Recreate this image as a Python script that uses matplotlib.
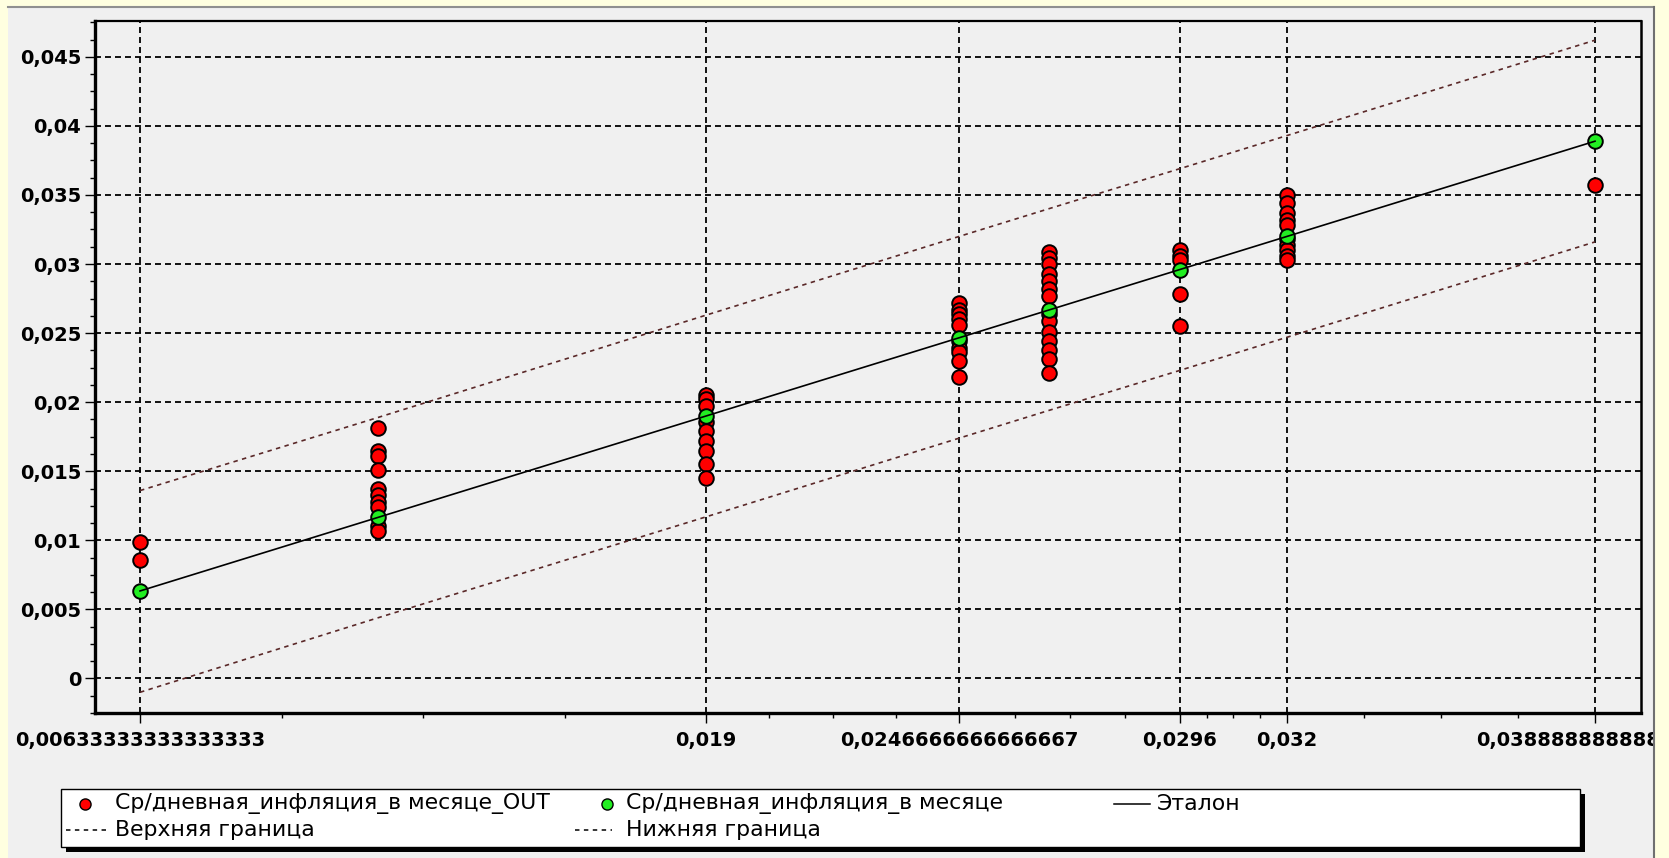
import matplotlib
matplotlib.use("Agg")
import matplotlib.pyplot as plt
from matplotlib.patches import Rectangle
from matplotlib.lines import Line2D

plt.rcParams["font.family"] = ["DejaVu Sans"]
plt.rcParams["lines.scale_dashes"] = False

# ---- data -------------------------------------------------------------
x_cats = [0.00633333333333333, 0.0116666666666667, 0.019, 0.0246666666666667,
          0.0266666666666667, 0.0296, 0.032, 0.0388888888888889]

# monthly mean daily inflation (reference series)
mean_vals = [0.00633333333333333, 0.0116666666666667, 0.019, 0.0246666666666667,
             0.0266666666666667, 0.0296, 0.032, 0.0388888888888889]

# observed values per category (OUT series)
out_groups = [
    [0.0099, 0.0086],
    [0.0181, 0.0165, 0.0161, 0.0151, 0.0137, 0.0133, 0.0128, 0.0124, 0.0110, 0.0107],
    [0.0205, 0.0202, 0.0197, 0.0186, 0.0179, 0.0172, 0.0165, 0.0155, 0.0145],
    [0.0272, 0.0267, 0.0264, 0.0260, 0.0256, 0.0244, 0.0239, 0.0236, 0.0230, 0.0218],
    [0.0309, 0.0304, 0.0300, 0.0293, 0.0288, 0.0282, 0.0277, 0.0264, 0.0259,
     0.0251, 0.0244, 0.0238, 0.0231, 0.0221],
    [0.0310, 0.0306, 0.0303, 0.0278, 0.0255],
    [0.0350, 0.0344, 0.0337, 0.0332, 0.0328, 0.0318, 0.0314, 0.0310, 0.0306, 0.0303],
    [0.0357],
]

etalon = [0.00633333333333333, 0.0116666666666667, 0.019, 0.0246666666666667,
          0.0266666666666667, 0.0296, 0.032, 0.0388888888888889]
upper = [0.0136, 0.0189, 0.0263, 0.0320, 0.0340, 0.0369, 0.0393, 0.0462]
lower = [-0.0010, 0.0044, 0.0117, 0.0174, 0.0194, 0.0223, 0.0247, 0.0316]

x_tick_pos = [0.00633333333333333, 0.019, 0.0246666666666667, 0.0296, 0.032,
              0.0388888888888889]
x_tick_labels = ["0,00633333333333333", "0,019", "0,0246666666666667", "0,0296",
                 "0,032", "0,0388888888888889"]
y_tick_pos = [0, 0.005, 0.01, 0.015, 0.02, 0.025, 0.03, 0.035, 0.04, 0.045]
y_tick_labels = ["0", "0,005", "0,01", "0,015", "0,02", "0,025", "0,03", "0,035",
                 "0,04", "0,045"]

legend_labels = ["Ср/дневная_инфляция_в месяце_OUT", "Ср/дневная_инфляция_в месяце",
                 "Эталон", "Верхняя граница", "Нижняя граница"]

# ---- figure -----------------------------------------------------------
W, H = 1669, 858
fig = plt.figure(figsize=(W / 100, H / 100), dpi=100, facecolor="#FFFFE0")


def fx(px):
    return px / W


def fy(py):
    return 1 - py / H


# grey panel
fig.add_artist(Rectangle((fx(8), 0), fx(1654) - fx(8), fy(7), transform=fig.transFigure,
                         facecolor="#F0F0F0", edgecolor="none", zorder=-10))
fig.add_artist(Line2D([fx(8), fx(1654)], [fy(7), fy(7)], transform=fig.transFigure,
                      color="#909090", lw=1.5, zorder=-9))

ax = fig.add_axes([fx(95), fy(713), fx(1641) - fx(95), fy(21) - fy(713)])
ax.set_facecolor("#F0F0F0")
ax.set_xlim(0.005326, 0.039918)
ax.set_ylim(-0.002232, 0.04759)

grid_dash = (0, (4.3, 2.9))
ax.set_axisbelow(True)
ax.grid(True, which="major", color="black", linestyle=grid_dash, linewidth=1.3)

# tolerance band
ax.plot(x_cats, upper, color="#5a2828", lw=1.2, linestyle=(0, (3.2, 3.2)), zorder=3)
ax.plot(x_cats, lower, color="#5a2828", lw=1.2, linestyle=(0, (3.2, 3.2)), zorder=3)

# observed points
ox, oy = [], []
for xv, ys in zip(x_cats, out_groups):
    ox.extend([xv] * len(ys))
    oy.extend(ys)
ax.plot(ox, oy, linestyle="none", marker="o", ms=10.5, mfc="#FF0000", mec="black",
        mew=1.4, zorder=4, clip_on=False)

# reference series
ax.plot(x_cats, mean_vals, linestyle="none", marker="o", ms=10.5, mfc="#22EE22",
        mec="black", mew=1.4, zorder=5, clip_on=False)
ax.plot(x_cats, etalon, color="black", lw=1.2, zorder=6)

# axes decoration
ax.set_xticks(x_tick_pos, labels=x_tick_labels, fontsize=14, fontweight="bold")
ax.set_yticks(y_tick_pos, labels=y_tick_labels, fontsize=14, fontweight="bold")
minor_x = []
for a, b in zip(x_tick_pos[:-1], x_tick_pos[1:]):
    minor_x.extend([a + (b - a) * k / 4 for k in (1, 2, 3)])
ax.set_xticks(minor_x, minor=True)
minor_y = [v / 800 for v in range(-2, 39)]
ax.set_yticks(minor_y, minor=True)
ax.tick_params(axis="both", which="major", direction="out", length=7, width=1,
               color="black")
ax.tick_params(axis="both", which="minor", direction="out", length=3.6, width=1,
               color="black")
ax.tick_params(axis="x", which="major", pad=6)
ax.tick_params(axis="y", which="major", pad=3)
for side, lw in (("left", 2.4), ("bottom", 2.4), ("top", 1.6), ("right", 1.8)):
    ax.spines[side].set_linewidth(lw)
    ax.spines[side].set_color("black")

# ---- legend -----------------------------------------------------------
bx0, bx1, by0, by1 = 61, 1580, 789, 847
fig.add_artist(Rectangle((fx(bx0 + 5), fy(by1 + 5)), fx(bx1) - fx(bx0), fy(by0) - fy(by1),
                         transform=fig.transFigure, facecolor="black", edgecolor="none",
                         zorder=5))
fig.add_artist(Rectangle((fx(bx0), fy(by1)), fx(bx1) - fx(bx0), fy(by0) - fy(by1),
                         transform=fig.transFigure, facecolor="white", edgecolor="black",
                         lw=1, zorder=6))

r1, r2 = 804, 830
fs_leg = 15.8


def leg_marker(x, y, color):
    fig.add_artist(Line2D([fx(x)], [fy(y)], transform=fig.transFigure, marker="o",
                          ms=8, mfc=color, mec="black", mew=1, linestyle="none", zorder=7))


def leg_line(x0, x1, y, **kw):
    fig.add_artist(Line2D([fx(x0), fx(x1)], [fy(y), fy(y)], transform=fig.transFigure,
                          zorder=7, **kw))


def leg_text(x, y, s):
    fig.text(fx(x), fy(y), s, fontsize=fs_leg, va="center", ha="left", zorder=7)


leg_marker(85, r1, "#FF0000")
leg_text(115, r1, legend_labels[0])
leg_marker(607, r1, "#22EE22")
leg_text(626, r1, legend_labels[1])
leg_line(1114, 1150, r1, color="black", lw=1.1)
leg_text(1157, r1, legend_labels[2])
leg_line(66, 106, r2, color="black", lw=1.1, linestyle=(0, (3.2, 3.2)))
leg_text(115, r2, legend_labels[3])
leg_line(575, 612, r2, color="black", lw=1.1, linestyle=(0, (3.2, 3.2)))
leg_text(626, r2, legend_labels[4])

# panel right edge covers overflowing tick text
fig.add_artist(Rectangle((fx(1655), 0), 1 - fx(1655), 1, transform=fig.transFigure,
                         facecolor="#FFFFE0", edgecolor="none", zorder=20))
fig.add_artist(Line2D([fx(1654), fx(1654)], [0, fy(7)], transform=fig.transFigure,
                      color="#707070", lw=1.5, zorder=21))

fig.savefig("out.png", dpi=100, facecolor=fig.get_facecolor())
